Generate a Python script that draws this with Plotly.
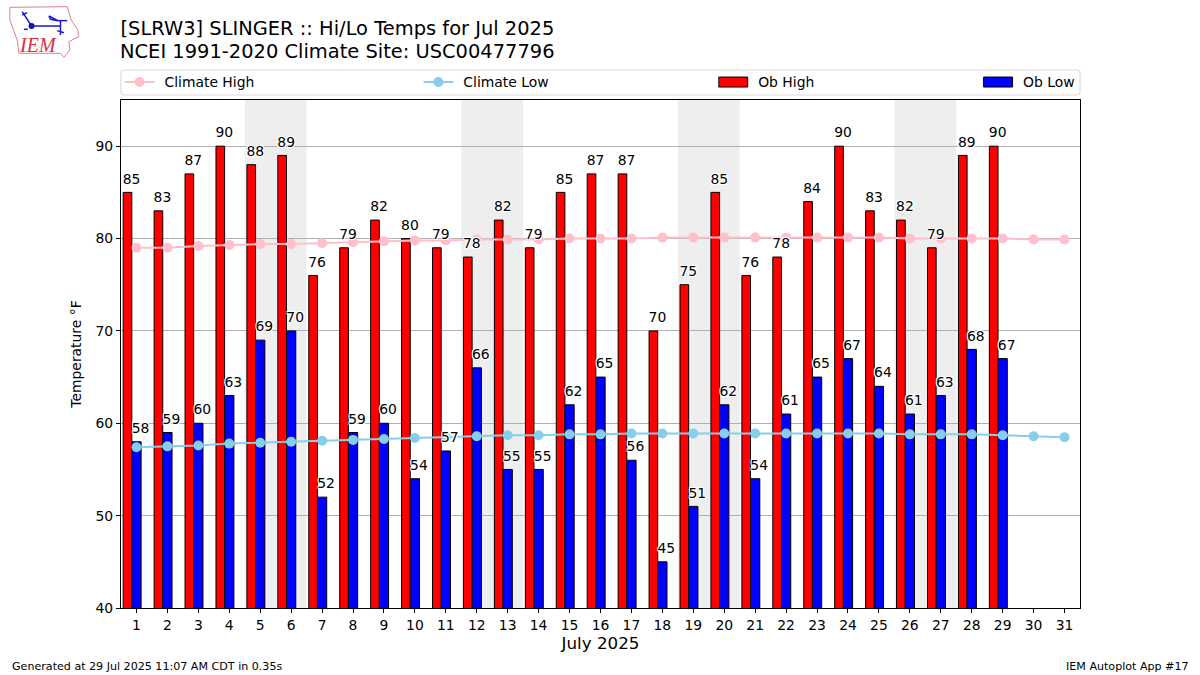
import plotly.graph_objects as go

days = list(range(1, 32))
ob_days = list(range(1, 30))
ob_high = [85, 83, 87, 90, 88, 89, 76, 79, 82, 80, 79, 78, 82, 79, 85, 87, 87, 70, 75, 85, 76, 78, 84, 90, 83, 82, 79, 89, 90]
ob_low = [58, 59, 60, 63, 69, 70, 52, 59, 60, 54, 57, 66, 55, 55, 62, 65, 56, 45, 51, 62, 54, 61, 65, 67, 64, 61, 63, 68, 67]
climate_high = [79.0, 79.0, 79.2, 79.3, 79.4, 79.4, 79.5, 79.6, 79.7, 79.8, 79.8, 79.9, 79.9, 79.9, 80.0, 80.0,
                80.0, 80.1, 80.1, 80.1, 80.1, 80.1, 80.1, 80.1, 80.1, 80.0, 80.0, 80.0, 80.0, 79.9, 79.9]
climate_low = [57.4, 57.5, 57.6, 57.8, 57.9, 58.0, 58.1, 58.2, 58.3, 58.4, 58.5, 58.6, 58.7, 58.7, 58.8, 58.8,
               58.9, 58.9, 58.9, 58.9, 58.9, 58.9, 58.9, 58.9, 58.9, 58.8, 58.8, 58.8, 58.7, 58.6, 58.5]
weekend_saturdays = [5, 12, 19, 26]
title_line1 = "[SLRW3] SLINGER :: Hi/Lo Temps for Jul 2025"
title_line2 = "NCEI 1991-2020 Climate Site: USC00477796"
footer_left = "Generated at 29 Jul 2025 11:07 AM CDT in 0.35s"
footer_right = "IEM Autoplot App #17"

W, H = 1200, 675
L, R, T, B = 120.5, 1080, 100, 608
FONT = "DejaVu Sans"
HALO = "-1px -1px 0 #fff, 1px -1px 0 #fff, -1px 1px 0 #fff, 1px 1px 0 #fff, 0 0 2px #fff"


def px(x):
    return (x - L) / (R - L)


def py(y):
    return (B - y) / (B - T)


def logo_path(points, close=True):
    d = "M" + " L".join(f"{px(a / 3):.4f},{py(b / 3):.4f}" for a, b in points)
    return d + (" Z" if close else "")


def legend_box(x_px):
    return dict(x=px(x_px), xanchor="left", y=py(82.5), yanchor="middle", orientation="h", itemwidth=30,
                bgcolor="rgba(0,0,0,0)", borderwidth=0, font=dict(family=FONT, size=13.9))


fig = go.Figure()
fig.add_bar(x=ob_days, y=ob_high, name="Ob High", width=0.28, offset=-0.43, marker=dict(color="#ff0000", line=dict(color="black", width=1)), legend="legend3")
fig.add_bar(x=ob_days, y=ob_low, name="Ob Low", width=0.30, offset=-0.15, marker=dict(color="#0000ff", line=dict(color="black", width=1)), legend="legend4")
fig.add_scatter(x=days, y=climate_high, name="Climate High", mode="lines+markers", line=dict(color="#ffc0cb", width=2), marker=dict(color="#ffc0cb", size=10), legend="legend")
fig.add_scatter(x=days, y=climate_low, name="Climate Low", mode="lines+markers", line=dict(color="#87ceeb", width=2), marker=dict(color="#87ceeb", size=10), legend="legend2")
for vals, off in ((ob_high, -0.16), (ob_low, 0.13)):
    fig.add_scatter(x=[d + off for d in ob_days], y=vals, text=[str(v) for v in vals], mode="markers+text", textposition="top center",
                    marker=dict(size=7, opacity=0),
                    textfont=dict(family=FONT, size=13.9, color="black", shadow=HALO), showlegend=False, hoverinfo="skip", cliponaxis=False)

shapes = []
for d in weekend_saturdays:
    shapes.append(dict(type="rect", xref="x", yref="paper", x0=d - 0.5, x1=d + 1.5, y0=0, y1=1, fillcolor="#eeeeee", line_width=0, layer="below"))

# rounded frame around the four legend columns
fx0, fx1, fy0, fy1, fr = 120.5, 1080, 70, 95, 3
frame = (f"M{px(fx0 + fr)},{py(fy0)} L{px(fx1 - fr)},{py(fy0)} Q{px(fx1)},{py(fy0)} {px(fx1)},{py(fy0 + fr)} "
         f"L{px(fx1)},{py(fy1 - fr)} Q{px(fx1)},{py(fy1)} {px(fx1 - fr)},{py(fy1)} "
         f"L{px(fx0 + fr)},{py(fy1)} Q{px(fx0)},{py(fy1)} {px(fx0)},{py(fy1 - fr)} "
         f"L{px(fx0)},{py(fy0 + fr)} Q{px(fx0)},{py(fy0)} {px(fx0 + fr)},{py(fy0)} Z")
shapes.append(dict(type="path", xref="paper", yref="paper", path=frame, line=dict(color="#dcdcdc", width=1.2)))

# logo: outline of Iowa and the little station sketch
outline = [(28, 22), (200, 20), (212, 60), (232, 90), (234, 110), (205, 125), (208, 150), (190, 172), (180, 160), (55, 160), (50, 120), (28, 60)]
shapes.append(dict(type="path", xref="paper", yref="paper", path=logo_path(outline), line=dict(color="#e08088", width=1)))
for seg in ([(65, 35), (93, 78), (180, 78)], [(180, 62), (180, 105)], [(170, 62), (200, 62)], [(145, 48), (172, 62), (150, 58), (145, 48)], [(65, 45), (80, 38)], [(170, 92), (190, 98)], [(70, 88), (82, 88)]):
    shapes.append(dict(type="path", xref="paper", yref="paper", path=logo_path(seg, False), line=dict(color="#1818d8", width=1.5)))
shapes.append(dict(type="circle", xref="paper", yref="paper", x0=px(28), x1=px(34), y0=py(29), y1=py(23), fillcolor="#1010c0", line_width=0))

annotations = [
    dict(text=title_line2, xref="paper", yref="paper", x=px(117.5), y=py(51.5), xanchor="left", yanchor="middle", showarrow=False, font=dict(family=FONT, size=19.44, color="black")),
    dict(text="IEM", xref="paper", yref="paper", x=px(37), y=py(45), xanchor="center", yanchor="middle", showarrow=False, font=dict(family="Liberation Serif", size=20, color="#d83040", style="italic")),
    dict(text=footer_left, xref="paper", yref="paper", x=px(9), y=py(666.5), xanchor="left", yanchor="middle", showarrow=False, font=dict(family=FONT, size=11.1, color="black")),
    dict(text=footer_right, xref="paper", yref="paper", x=px(1191), y=py(666.5), xanchor="right", yanchor="middle", showarrow=False, font=dict(family=FONT, size=11.1, color="black")),
]

fig.update_layout(
    width=W, height=H, margin=dict(l=L, r=W - R, t=T, b=H - B, pad=0), autosize=False,
    paper_bgcolor="white", plot_bgcolor="white", barmode="overlay",
    font=dict(family=FONT, size=13.9, color="black"),
    title=dict(text=title_line1, x=L / W, xanchor="left", y=1 - 21 / H, yanchor="top", font=dict(family=FONT, size=19.44, color="black")),
    legend=legend_box(124), legend2=legend_box(423), legend3=legend_box(718), legend4=legend_box(983),
    xaxis=dict(range=[0.5, 31.5], tickvals=days, ticks="outside", ticklen=4, tickcolor="black", showgrid=False, showline=True, linecolor="black", mirror=True,
               zeroline=False, title=dict(text="July 2025", font=dict(size=16.7), standoff=5), tickfont=dict(size=13.9)),
    yaxis=dict(range=[40, 95], tickvals=[40, 50, 60, 70, 80, 90], ticks="outside", ticklen=4, tickcolor="black", showgrid=True, gridcolor="#b0b0b0", gridwidth=1,
               showline=True, linecolor="black", mirror=True, zeroline=False, title=dict(text="Temperature °F", font=dict(size=13.9), standoff=10), tickfont=dict(size=13.9)),
    shapes=shapes, annotations=annotations, showlegend=True,
)
# legend swatches: wide patches for the bars, tucked a little closer to the left like the original
post = """
document.body.style.margin='0';
var gd=document.getElementById('{plot_id}');
function fixLegend(){
  gd.querySelectorAll('.infolayer .traces .layers path').forEach(function(p){
    var d=(p.getAttribute('d')||'').replace(/\\s/g,'');
    if(d.indexOf('M6,6H-6V-6H6Z')===0){p.setAttribute('d','M14.5,5H-14.5V-5H14.5Z');}
  });
  gd.querySelectorAll('.infolayer .traces .layers').forEach(function(g){g.setAttribute('transform','translate(-5,0)');});
}
[0,30,100,250,500,1000,2000].forEach(function(t){setTimeout(fixLegend,t);});
gd.on('plotly_afterplot',fixLegend);
"""
fig.write_html("out.html", config=dict(displayModeBar=False), post_script=post)
